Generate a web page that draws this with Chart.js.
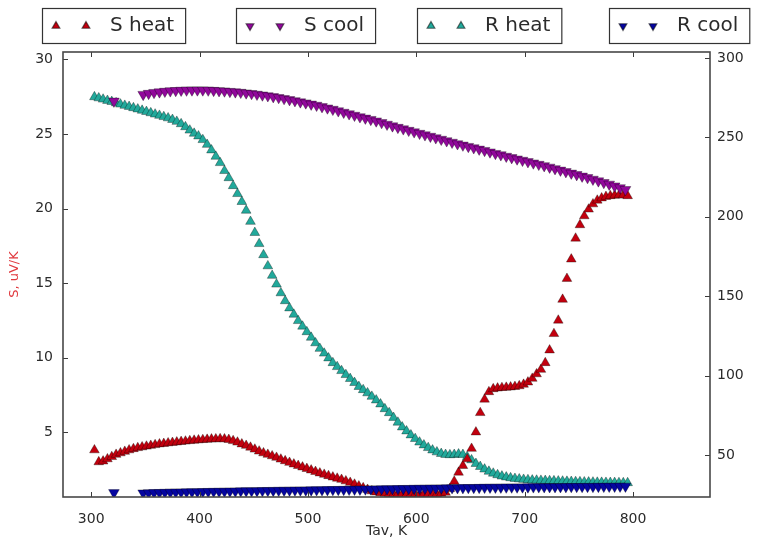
<!DOCTYPE html>
<html>
<head>
<meta charset="utf-8">
<script src="https://cdn.jsdelivr.net/npm/chart.js@4.4.1/dist/chart.umd.min.js"></script>
<style>
  html, body { margin: 0; padding: 0; background: #fff; overflow: hidden; }
</style>
</head>
<body>
<canvas id="chart" width="763" height="541"></canvas>
<script>
// heating run: average temperature, K
const tHeat = [
  303, 307, 311, 315, 319, 323, 327, 331, 335, 339,
  343, 347, 351, 355, 359, 363, 367, 371, 375, 379,
  383, 387, 391, 395, 399, 403, 407, 411, 415, 419,
  423, 427, 431, 435, 439, 443, 447, 451, 455, 459,
  463, 467, 471, 475, 479, 483, 487, 491, 495, 499,
  503, 507, 511, 515, 519, 523, 527, 531, 535, 539,
  543, 547, 551, 555, 559, 563, 567, 571, 575, 579,
  583, 587, 591, 595, 599, 603, 607, 611, 615, 619,
  623, 627, 631, 635, 639, 643, 647, 651, 655, 659,
  663, 667, 671, 675, 679, 683, 687, 691, 695, 699,
  703, 707, 711, 715, 719, 723, 727, 731, 735, 739,
  743, 747, 751, 755, 759, 763, 767, 771, 775, 779,
  783, 787, 791, 795
];
// S on heating, uV/K
const sHeat = [
  3.8, 3.0, 3.05, 3.2, 3.35, 3.5, 3.6, 3.7, 3.8, 3.88,
  3.95, 4.0, 4.05, 4.1, 4.15, 4.2, 4.23, 4.27, 4.3, 4.33,
  4.36, 4.39, 4.42, 4.45, 4.47, 4.49, 4.51, 4.53, 4.54, 4.55,
  4.54, 4.5, 4.42, 4.32, 4.2, 4.1, 3.98, 3.85, 3.72, 3.6,
  3.5, 3.4, 3.3, 3.18, 3.07, 2.96, 2.85, 2.75, 2.65, 2.55,
  2.45, 2.35, 2.25, 2.16, 2.07, 1.98, 1.9, 1.82, 1.72, 1.62,
  1.5, 1.38, 1.26, 1.15, 1.05, 0.97, 0.92, 0.89, 0.87, 0.86,
  0.85, 0.85, 0.84, 0.84, 0.84, 0.84, 0.84, 0.85, 0.85, 0.86,
  0.88, 0.95, 1.2, 1.7, 2.3, 2.75, 3.2, 3.9, 5.0, 6.3,
  7.2, 7.7, 7.9, 7.95, 7.98, 8.0, 8.02, 8.05, 8.1, 8.2,
  8.35, 8.6, 8.9, 9.2, 9.65, 10.5, 11.6, 12.5, 13.9, 15.3,
  16.6, 18.0, 18.9, 19.5, 19.95, 20.3, 20.55, 20.7, 20.8, 20.85,
  20.88, 20.9, 20.9, 20.85
];
// R on heating
const rHeat = [
  275.5, 274.8, 274.0, 273.2, 272.5, 271.7, 270.9, 270.1, 269.4, 268.6,
  267.8, 267.0, 266.2, 265.4, 264.6, 263.8, 263.0, 262.2, 261.2, 260.0,
  258.5, 256.6, 254.5, 252.5, 250.8, 248.5, 245.5, 242, 238, 234,
  229, 224.5, 219.5, 214.5, 209.5, 204, 197, 190, 183, 176,
  169, 163, 157.5, 152, 147, 142.5, 138.5, 134.5, 131, 127.5,
  124, 120.5, 117, 114, 111, 108, 105.5, 103, 100.5, 98,
  95.5, 93, 91, 89, 86.8, 84.5, 82, 79, 76.5, 73.5,
  70.5, 67.5, 65, 62.5, 60.2, 58, 56.2, 54.5, 53, 51.8,
  50.8, 50.2, 50, 50.2, 50.5, 50.2, 48.8, 46.8, 44.5, 42.6,
  41, 39.6, 38.4, 37.4, 36.6, 36, 35.5, 35.1, 34.8, 34.5,
  34.3, 34.1, 34.0, 33.9, 33.8, 33.7, 33.6, 33.5, 33.4, 33.3,
  33.2, 33.1, 33.0, 32.9, 32.85, 32.8, 32.7, 32.65, 32.6, 32.55,
  32.5, 32.45, 32.4, 32.4
];

// cooling run
const tCool = [
  321,
  348, 353, 358, 363, 368, 373, 378, 383, 388, 393,
  398, 403, 408, 413, 418, 423, 428, 433, 438, 443,
  448, 453, 458, 463, 468, 473, 478, 483, 488, 493,
  498, 503, 508, 513, 518, 523, 528, 533, 538, 543,
  548, 553, 558, 563, 568, 573, 578, 583, 588, 593,
  598, 603, 608, 613, 618, 623, 628, 633, 638, 643,
  648, 653, 658, 663, 668, 673, 678, 683, 688, 693,
  698, 703, 708, 713, 718, 723, 728, 733, 738, 743,
  748, 753, 758, 763, 768, 773, 778, 783, 788, 793
];
const sCool = [
  27.2,
  27.65, 27.72, 27.78, 27.82, 27.86, 27.89, 27.91, 27.93, 27.94, 27.95,
  27.95, 27.95, 27.94, 27.92, 27.9, 27.88, 27.85, 27.82, 27.79, 27.75,
  27.71, 27.66, 27.61, 27.56, 27.5, 27.44, 27.37, 27.3, 27.23, 27.15,
  27.08, 27.0, 26.92, 26.83, 26.74, 26.65, 26.55, 26.45, 26.35, 26.25,
  26.15, 26.06, 25.97, 25.87, 25.76, 25.65, 25.54, 25.44, 25.34, 25.24,
  25.14, 25.04, 24.94, 24.84, 24.74, 24.64, 24.54, 24.44, 24.34, 24.25,
  24.16, 24.07, 23.98, 23.89, 23.79, 23.69, 23.6, 23.5, 23.41, 23.32,
  23.23, 23.14, 23.05, 22.96, 22.87, 22.77, 22.67, 22.57, 22.47, 22.37,
  22.27, 22.17, 22.07, 21.96, 21.85, 21.74, 21.63, 21.51, 21.39, 21.27
];
const rCool = [
  26.2,
  26.0, 26.1, 26.2, 26.3, 26.4, 26.5, 26.55, 26.6, 26.7, 26.75,
  26.8, 26.9, 26.95, 27.0, 27.05, 27.1, 27.15, 27.2, 27.3, 27.35,
  27.4, 27.45, 27.5, 27.55, 27.6, 27.65, 27.7, 27.75, 27.8, 27.85,
  27.9, 27.95, 28.0, 28.05, 28.1, 28.15, 28.2, 28.25, 28.3, 28.35,
  28.4, 28.45, 28.5, 28.55, 28.6, 28.65, 28.7, 28.75, 28.8, 28.85,
  28.9, 28.95, 29.0, 29.05, 29.1, 29.15, 29.2, 29.25, 29.3, 29.35,
  29.4, 29.45, 29.5, 29.55, 29.6, 29.62, 29.65, 29.7, 29.72, 29.75,
  29.8, 29.82, 29.85, 29.88, 29.9, 29.93, 29.95, 29.97, 30.0, 30.02,
  30.05, 30.07, 30.1, 30.12, 30.15, 30.17, 30.2, 30.22, 30.25, 30.28
];

const xTicks = [300, 400, 500, 600, 700, 800];
const sTicks = [5, 10, 15, 20, 25, 30];
const rTicks = [50, 100, 150, 200, 250, 300];

const FONT = '"DejaVu Sans", "Liberation Sans", sans-serif';
const TEXT = '#2b2b2b';

function pts(xs, ys) {
  return xs.map((x, i) => ({ x: x, y: ys[i] }));
}

function series(label, data, color, axis, down, order) {
  return {
    label: label,
    data: data,
    yAxisID: axis,
    showLine: false,
    pointStyle: 'triangle',
    pointRotation: down ? 180 : 0,
    pointRadius: down ? 6.2 : 5.6,
    pointHoverRadius: 5,
    backgroundColor: color,
    borderColor: 'rgba(0,0,0,0.55)',
    borderWidth: 0.6,
    clip: 0,
    order: order
  };
}

// boxed legend items across the top, plus the frame and inward ticks
const mplDecor = {
  id: 'mplDecor',
  afterDatasetsDraw(chart) {
    const { ctx, chartArea: a, scales } = chart;
    ctx.save();
    ctx.strokeStyle = '#3a3a3a';
    ctx.lineWidth = 1;
    ctx.beginPath();
    xTicks.forEach(v => {
      const x = Math.round(scales.x.getPixelForValue(v)) + 0.5;
      ctx.moveTo(x, a.bottom); ctx.lineTo(x, a.bottom - 5);
      ctx.moveTo(x, a.top); ctx.lineTo(x, a.top + 5);
    });
    sTicks.forEach(v => {
      const y = Math.round(scales.y.getPixelForValue(v)) + 0.5;
      ctx.moveTo(a.left, y); ctx.lineTo(a.left + 5, y);
    });
    rTicks.forEach(v => {
      const y = Math.round(scales.y2.getPixelForValue(v)) + 0.5;
      ctx.moveTo(a.right, y); ctx.lineTo(a.right - 5, y);
    });
    ctx.stroke();
    ctx.lineWidth = 1.6;
    ctx.strokeStyle = '#484848';
    ctx.strokeRect(a.left, a.top, a.right - a.left, a.bottom - a.top);
    ctx.restore();
  },
  afterDraw(chart) {
    const ctx = chart.ctx;
    const lefts = [42, 236, 417, 609];
    ctx.save();
    ctx.font = '20px ' + FONT;
    ctx.textBaseline = 'middle';
    chart.data.datasets.forEach((ds, i) => {
      const L = lefts[i];
      const w = 68 + ctx.measureText(ds.label).width + 11;
      ctx.fillStyle = '#fff';
      ctx.fillRect(L, 8, w, 36);
      ctx.strokeStyle = '#333';
      ctx.lineWidth = 1.2;
      ctx.strokeRect(L + 0.5, 8.5, w, 35);
      ctx.fillStyle = ds.backgroundColor;
      ctx.strokeStyle = ds.borderColor;
      [L + 14, L + 44].forEach(px => {
        Chart.helpers.drawPoint(ctx, {
          pointStyle: 'triangle', radius: 4.5,
          rotation: ds.pointRotation, borderWidth: 0.6
        }, px, 26);
      });
      ctx.fillStyle = TEXT;
      ctx.fillText(ds.label, L + 68, 26);
    });
    ctx.restore();
  }
};

new Chart(document.getElementById('chart'), {
  type: 'scatter',
  data: {
    datasets: [
      series('S heat', pts(tHeat, sHeat), '#c2000e', 'y', false, 2),
      series('S cool', pts(tCool, sCool), '#91089b', 'y', true, 1),
      series('R heat', pts(tHeat, rHeat), '#22a99b', 'y2', false, 3),
      series('R cool', pts(tCool, rCool), '#0505a0', 'y2', true, 0)
    ]
  },
  options: {
    responsive: false,
    animation: false,
    events: [],
    layout: { padding: { top: 52, left: 0, right: 0, bottom: 0 } },
    plugins: {
      legend: { display: false },
      tooltip: { enabled: false }
    },
    scales: {
      x: {
        type: 'linear',
        min: 274,
        max: 871,
        afterBuildTicks: s => { s.ticks = xTicks.map(v => ({ value: v })); },
        afterFit: s => { s.height = 44; },
        grid: { display: false, drawTicks: false },
        border: { display: false },
        ticks: { color: TEXT, padding: 14, font: { family: FONT, size: 14 } },
        title: {
          display: true, text: 'Tav, K', color: TEXT,
          padding: { top: 0, bottom: 1 },
          font: { family: FONT, size: 14 }
        }
      },
      y: {
        type: 'linear',
        position: 'left',
        min: 0.65,
        max: 30.5,
        afterBuildTicks: s => { s.ticks = sTicks.map(v => ({ value: v })); },
        afterFit: s => { s.width = 63; },
        grid: { display: false, drawTicks: false },
        border: { display: false },
        ticks: { color: TEXT, padding: 10, font: { family: FONT, size: 14 } },
        title: {
          display: true, text: 'S, uV/K', color: '#e0393e',
          padding: { top: 7, bottom: 0 },
          font: { family: FONT, size: 13 }
        }
      },
      y2: {
        type: 'linear',
        position: 'right',
        min: 23.5,
        max: 303.8,
        afterBuildTicks: s => { s.ticks = rTicks.map(v => ({ value: v })); },
        afterFit: s => { s.width = 53; },
        grid: { display: false, drawTicks: false },
        border: { display: false },
        ticks: { color: TEXT, padding: 7, font: { family: FONT, size: 14 } }
      }
    }
  },
  plugins: [mplDecor]
});
</script>
</body>
</html>
